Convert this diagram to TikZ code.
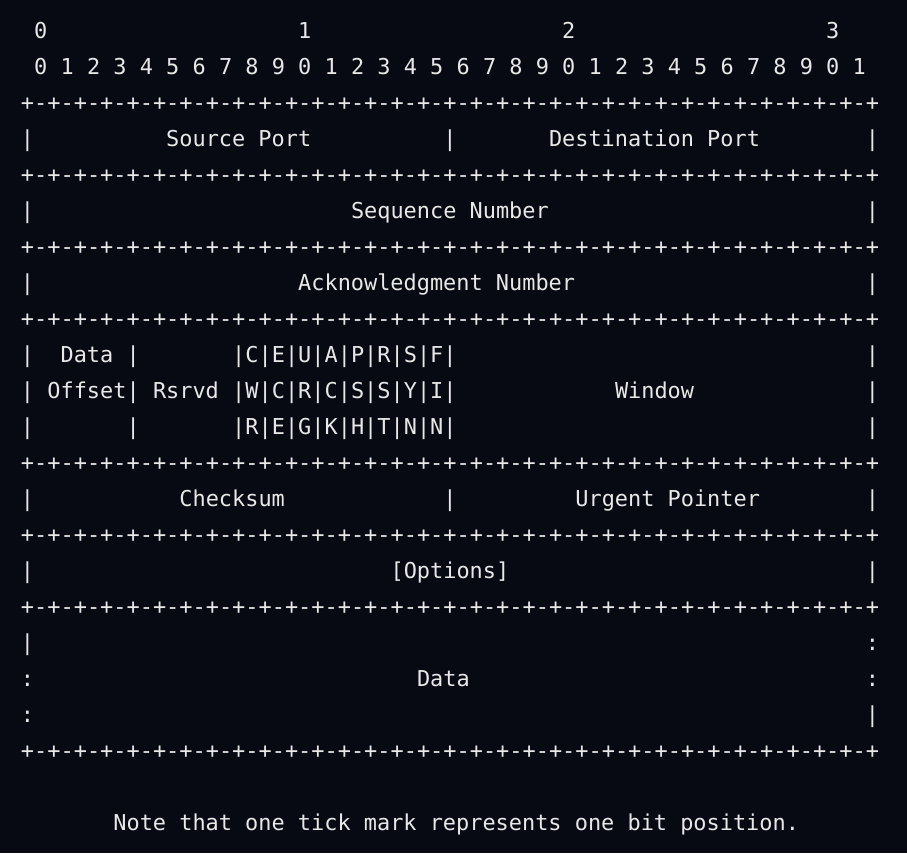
\documentclass[tikz,border=0pt]{standalone}
\usepackage{fontspec}
\newfontfamily\termfont{DejaVu Sans Mono}
\definecolor{termbg}{RGB}{7,9,19}
\definecolor{termfg}{RGB}{232,232,232}
\tikzset{
  cell/.style={anchor=base west,inner sep=0pt,outer sep=0pt,text=termfg,
    font=\termfont\fontsize{21.9}{36}\selectfont},
}

\begin{document}
\begin{tikzpicture}[x=13.2pt,y=-36pt]
% background and margins
\fill[termbg] (-1.5909,-1.0556) rectangle (67.1212,22.6389);
\useasboundingbox (-1.5909,-1.0556) rectangle (67.1212,22.6389);

% bit scale
\foreach \d [count=\i from 0] in {0,1,2,3}
  \node[cell] (dec\i) at ({1+20*\i},0) {\d};
\foreach \b in {0,...,31} {
  \pgfmathtruncatemacro\u{mod(\b,10)}
  \node[cell] (bit\b) at ({1+2*\b},1) {\u};
}

% ruler lines
\foreach \r in {2,4,6,8,12,14,16,20}
  \foreach \c in {0,...,64} {
    \pgfmathtruncatemacro\odd{mod(\c,2)}
    \node[cell] (rule\r-\c) at (\c,\r) {\ifnum\odd=0 +\else -\fi};
  }

% field borders
\foreach \r/\c in {3/0,3/32,3/64,5/0,5/64,7/0,7/64,
                   9/0,9/8,9/64,10/0,10/8,10/64,11/0,11/8,11/64,
                   13/0,13/32,13/64,15/0,15/64,17/0,19/64}
  \node[cell] (bar\r-\c) at (\c,\r) {|};
\foreach \r in {9,10,11}
  \foreach \c in {16,18,...,32}
    \node[cell] (fbar\r-\c) at (\c,\r) {|};
\node[cell] (colon17-64) at (64,17) {:};
\node[cell] (colon18-0) at (0,18) {:};
\node[cell] (colon18-64) at (64,18) {:};
\node[cell] (colon19-0) at (0,19) {:};

% flags
\foreach \a/\b/\c [count=\k from 0] in {C/W/R,E/C/E,U/R/G,A/C/K,P/S/H,R/S/T,S/Y/N,F/I/N} {
  \node[cell] (flagA\k) at ({17+2*\k},9) {\a};
  \node[cell] (flagB\k) at ({17+2*\k},10) {\b};
  \node[cell] (flagC\k) at ({17+2*\k},11) {\c};
}

% field names
\node[cell] (srcport) at (11,3) {Source Port};
\node[cell] (dstport) at (40,3) {Destination Port};
\node[cell] (seqnum) at (25,5) {Sequence Number};
\node[cell] (acknum) at (21,7) {Acknowledgment Number};
\node[cell] (dataoff1) at (3,9) {Data};
\node[cell] (dataoff2) at (2,10) {Offset};
\node[cell] (rsrvd) at (10,10) {Rsrvd};
\node[cell] (window) at (45,10) {Window};
\node[cell] (checksum) at (12,13) {Checksum};
\node[cell] (urgptr) at (42,13) {Urgent Pointer};
\node[cell] (options) at (28,15) {[Options]};
\node[cell] (data) at (30,18) {Data};

% footnote
\node[cell] (note) at (7,22) {Note that one tick mark represents one bit position.};
\end{tikzpicture}
\end{document}
